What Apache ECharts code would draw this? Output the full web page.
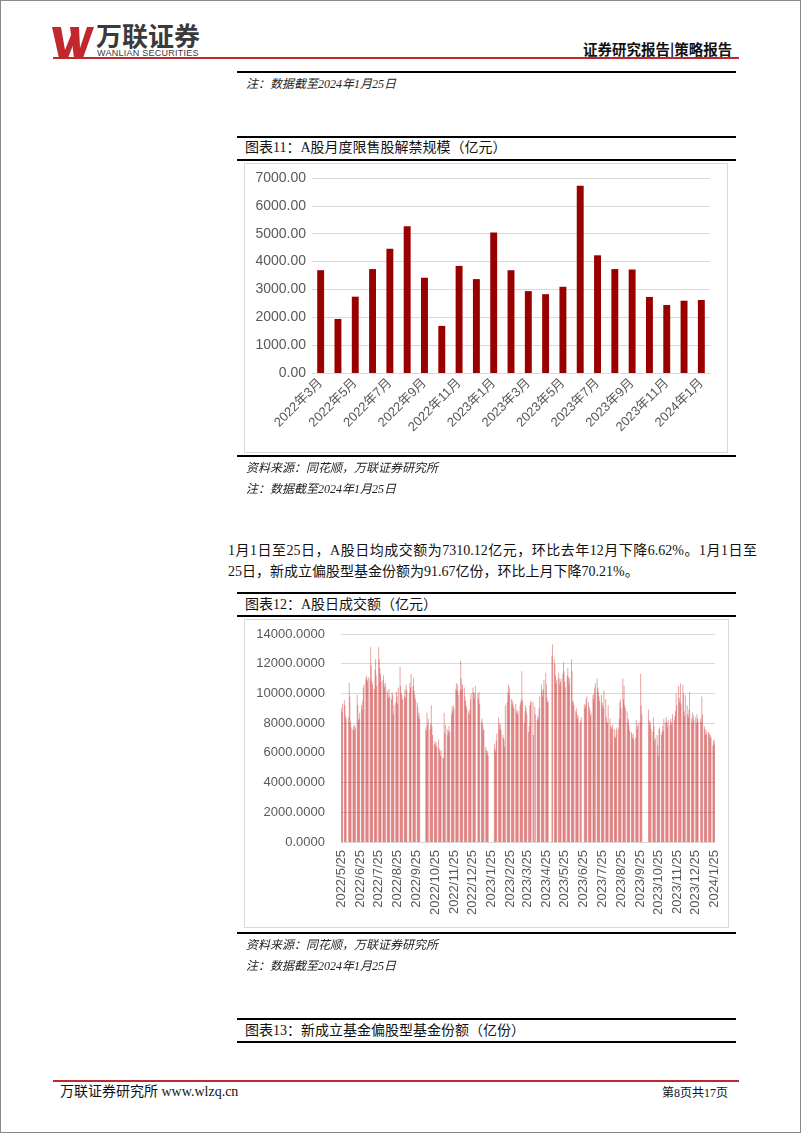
<!DOCTYPE html>
<html><head><meta charset="utf-8">
<script src="https://cdn.jsdelivr.net/npm/echarts@6/dist/echarts.min.js"></script>
<style>
html,body{margin:0;padding:0;background:#fff;}
#page{position:relative;width:802px;height:1133px;overflow:hidden;background:#fff;font-family:"Liberation Serif","Noto Sans CJK SC",serif;color:#111;}
.frame{position:absolute;left:0;top:0;width:801px;height:1133px;box-sizing:border-box;border:1px solid #8a8a8a;}
.t{position:absolute;white-space:nowrap;}
.bl{position:absolute;left:237px;width:499px;height:2px;background:#000;}
.src{font-style:italic;font-size:12px;line-height:12px;color:#222;}
.ttl{font-size:14px;line-height:14px;color:#111;}
.box{position:absolute;border:1px solid #d9d9d9;box-sizing:border-box;}
</style></head>
<body><div id="page">
<div class="frame"></div>
<svg class="t" style="left:51px;top:26px" width="44" height="33" viewBox="0 0 44 33">
  <polygon points="1,1 10,1 14,24 20,9 26,9 17,32 8,32" fill="#c1272d"/>
  <polygon points="19,1 28,1 29,22 36,1 43,1 32,32 23,32" fill="#c1272d"/>
</svg>
<div class="t" style="left:96px;top:22px;font-family:'Noto Sans CJK SC';font-weight:bold;font-size:26px;line-height:26px;color:#3a3a3a;">万联证券</div>
<div class="t" style="left:97px;top:49px;font-family:'Liberation Sans';font-size:9px;line-height:9px;color:#3a3a3a;letter-spacing:0.25px;">WANLIAN SECURITIES</div>
<div class="t" style="left:583px;top:41px;font-family:'Noto Sans CJK SC';font-weight:bold;font-size:14.5px;line-height:15px;color:#111;">证券研究报告|策略报告</div>
<div class="t" style="left:53px;top:57px;width:686px;height:2px;background:#c1272d;"></div>

<div class="bl" style="top:71px"></div>
<div class="t src" style="left:246px;top:78px">注：数据截至2024年1月25日</div>

<div class="bl" style="top:136px"></div>
<div class="t ttl" style="left:245px;top:141px">图表11：A股月度限售股解禁规模（亿元）</div>
<div class="bl" style="top:159px"></div>
<div id="c1" style="position:absolute;left:244px;top:163px;width:484px;height:290px;"></div>
<div class="box" style="left:244px;top:163px;width:484px;height:290px;"></div>
<div class="bl" style="top:455px"></div>
<div class="t src" style="left:246px;top:462px">资料来源：同花顺，万联证券研究所</div>
<div class="t src" style="left:246px;top:483px">注：数据截至2024年1月25日</div>

<div class="t" style="left:228px;top:544px;width:529px;font-size:14px;line-height:14px;text-align:justify;text-align-last:justify;">1月1日至25日，A股日均成交额为7310.12亿元，环比去年12月下降6.62%。1月1日至</div>
<div class="t" style="left:228px;top:565px;font-size:14px;line-height:14px;">25日，新成立偏股型基金份额为91.67亿份，环比上月下降70.21%。</div>

<div class="bl" style="top:592px"></div>
<div class="t ttl" style="left:245px;top:598px">图表12：A股日成交额（亿元）</div>
<div class="bl" style="top:615px"></div>
<div id="c2" style="position:absolute;left:244px;top:619px;width:485px;height:309px;"></div>
<div class="box" style="left:244px;top:619px;width:485px;height:309px;"></div>
<div class="bl" style="top:932px"></div>
<div class="t src" style="left:246px;top:939px">资料来源：同花顺，万联证券研究所</div>
<div class="t src" style="left:246px;top:960px">注：数据截至2024年1月25日</div>

<div class="bl" style="top:1018px"></div>
<div class="t ttl" style="left:245px;top:1024px">图表13：新成立基金偏股型基金份额（亿份）</div>
<div class="bl" style="top:1041px"></div>

<div class="t" style="left:53px;top:1080px;width:686px;height:2px;background:#c1272d;"></div>
<div class="t" style="left:60px;top:1085px;font-size:14px;line-height:14px;color:#111;">万联证券研究所 www.wlzq.cn</div>
<div class="t" style="left:662px;top:1087px;font-size:12px;line-height:12px;color:#111;">第8页共17页</div>
</div>
<script>
// ---- Chart 11: monthly unlock scale ----
const unlockMonths = ['2022年3月','2022年4月','2022年5月','2022年6月','2022年7月','2022年8月','2022年9月','2022年10月','2022年11月','2022年12月','2023年1月','2023年2月','2023年3月','2023年4月','2023年5月','2023年6月','2023年7月','2023年8月','2023年9月','2023年10月','2023年11月','2023年12月','2024年1月'];
const unlockValues = [3690,1940,2740,3730,4460,5270,3420,1690,3845,3370,5040,3690,2940,2830,3095,6725,4225,3730,3715,2730,2440,2595,2620];
const unlockTicks = [0,1000,2000,3000,4000,5000,6000,7000];

// ---- Chart 12: daily turnover, trading days per month in order ----
const d2022_05 = [9000,8750,9300,9550,9200];
const d2022_06 = [8500,8300,8400,10700,9800,8100,7700,7600,7800,7500,7900,7700,9900,9200,8200,8300,8700,9200,8900,9500,10400];
const d2022_07 = [10600,11000,11200,10900,10800,11100,11000,13100,11900,10800,10600,10300,11600,12300,11200,10500,13100,12300,11700,11300,10800];
const d2022_08 = [10900,11200,10600,10400,10700,10200,10000,9700,10300,9800,9600,10100,9900,8600,9200,9400,10100,9800,9300,10400,11800,10500,10000];
const d2022_09 = [9900,9600,9800,10300,9700,10600,10200,10000,10700,10400,11300,10500,11000,10200,9900,9600,9400,9100,8500,8700,8300];
const d2022_10 = [7700,7500,8700,7900,8300,7600,8000,9200,7800,7200,6600,6800,6500,6700,6400,6900];
const d2022_11 = [6300,6100,5800,6200,5700,5600,8700,7300,7900,7600,7200,7500,7800,7400,8600,9100,8800,9200,9000,10300,10700,10200];
const d2022_12 = [10600,9900,10200,12200,11000,10300,10600,10400,9800,9500,9200,9000,8800,8600,8900,9600,10000,10400,10100,9700,10000,10500];
const d2023_01 = [10000,9600,10100,9300,8100,8300,7900,7500,7600,6400,6200,5900,6100,5800,6600,6300];
const d2023_02 = [6100,6800,7300,8400,8000,7600,7900,7500,7200,7000,6900,6400,9200,9400,10100,10600,9900,10400,9600,9300];
const d2023_03 = [9500,9200,9000,9300,8700,8900,8600,8800,9200,9400,9600,11500,9500,8000,8800,9200,9000,8600,7400,7800,9200,9400,9500];
const d2023_04 = [9400,7200,9100,8600,8200,8500,8300,9000,9800,10600,10200,9800,10300,10900,11400,10600,9700,9400,9500];
const d2023_05 = [12500,13300,12300,12000,11200,10700,10900,11400,11000,10600,10800,11000,11300,12100,11500,10800,10400,11200,11700,11100];
const d2023_06 = [10600,11000,12300,11500,9500,9400,9200,8800,9000,8600,8300,8500,8000,8200,8400,9300,9000,9200,9600,9800];
const d2023_07 = [9400,9100,8900,8500,8700,9900,9600,10000,10400,10700,11000,10400,10100,9800,9500,9900,9400,9200,9000,10200,9600];
const d2023_08 = [8400,8100,8000,9200,8300,7800,7600,7700,7900,7600,7100,7000,7500,7700,7600,8300,9400,9600,9000,11000,9600,10500,9200];
const d2023_09 = [9000,8800,8100,8300,7900,7500,7400,7200,7000,7300,6900,7000,8200,7600,7800,8000,8100,11300,9200,8600];
const d2023_10 = [8900,8200,7900,8100,7600,7400,8400,7800,6800,7000,7200,6500,5800,7600,7700,7200,7400];
const d2023_11 = [7800,7500,8300,8100,8400,8000,7700,8200,7900,8300,8100,7900,8600,8200,8500,8800,10000,9200,10500,9700,9400,10700];
const d2023_12 = [9300,10600,10000,8800,8500,9900,9200,8600,8400,8900,10100,8300,8000,8700,8500,8200,8400,8000,8600,8300,8100];
const d2024_01 = [8300,8100,9800,8600,7800,7600,7200,7500,7300,7400,7200,7300,7000,7100,6500,6800,6900,6600];
const turnoverTicks = [0,2000,4000,6000,8000,10000,12000,14000];
// exchange holidays (weekdays with no trading)
const holidays = ['2022-06-03','2022-09-12','2022-10-03','2022-10-04','2022-10-05','2022-10-06','2022-10-07','2023-01-02','2023-01-23','2023-01-24','2023-01-25','2023-01-26','2023-01-27','2023-04-05','2023-05-01','2023-05-02','2023-05-03','2023-06-22','2023-06-23','2023-09-29','2023-10-02','2023-10-03','2023-10-04','2023-10-05','2023-10-06','2024-01-01'];

const monthly = {'2022-05':d2022_05,'2022-06':d2022_06,'2022-07':d2022_07,'2022-08':d2022_08,'2022-09':d2022_09,'2022-10':d2022_10,'2022-11':d2022_11,'2022-12':d2022_12,'2023-01':d2023_01,'2023-02':d2023_02,'2023-03':d2023_03,'2023-04':d2023_04,'2023-05':d2023_05,'2023-06':d2023_06,'2023-07':d2023_07,'2023-08':d2023_08,'2023-09':d2023_09,'2023-10':d2023_10,'2023-11':d2023_11,'2023-12':d2023_12,'2024-01':d2024_01};

const dayCats = [], dayVals = [];
(function(){
  const pad = n => (n<10?'0':'')+n;
  const start = Date.UTC(2022,4,25), end = Date.UTC(2024,0,25);
  const hol = new Set(holidays);
  const used = {};
  for (let t = start; t <= end; t += 86400000) {
    const d = new Date(t);
    const y = d.getUTCFullYear(), m = d.getUTCMonth()+1, dd = d.getUTCDate(), wd = d.getUTCDay();
    const iso = y+'-'+pad(m)+'-'+pad(dd), key = y+'-'+pad(m);
    dayCats.push(y+'/'+m+'/'+dd);
    if (wd===0 || wd===6 || hol.has(iso)) { dayVals.push(null); continue; }
    used[key] = (used[key]||0);
    const arr = monthly[key];
    const v = arr && used[key] < arr.length ? arr[used[key]] : null;
    used[key]++;
    dayVals.push(v);
  }
})();

const axisFont = '"Liberation Sans","Noto Sans CJK SC",sans-serif';
const c1 = echarts.init(document.getElementById('c1'));
c1.setOption({
  animation:false,
  grid:{left:68,right:18,top:15,bottom:80},
  xAxis:{type:'category',data:unlockMonths,
    axisLine:{lineStyle:{color:'#d9d9d9'}},axisTick:{show:false},
    axisLabel:{interval:1,rotate:45,color:'#595959',fontSize:13,fontFamily:axisFont,margin:8}},
  yAxis:{type:'value',min:unlockTicks[0],max:unlockTicks[unlockTicks.length-1],interval:1000,
    axisLine:{show:false},axisTick:{show:false},
    splitLine:{lineStyle:{color:'#d9d9d9'}},
    axisLabel:{color:'#595959',fontSize:14,fontFamily:axisFont,margin:6,formatter:v=>v.toFixed(2)}},
  series:[{type:'bar',data:unlockValues,barWidth:'40%',itemStyle:{color:'#990000'}}]
});

const c2 = echarts.init(document.getElementById('c2'));
c2.setOption({
  animation:false,
  grid:{left:97,right:14,top:15,bottom:86},
  xAxis:{type:'category',data:dayCats,
    axisLine:{show:false},axisTick:{show:false},
    axisLabel:{interval:(i,v)=>/\/25$/.test(v),rotate:90,color:'#595959',fontSize:13,fontFamily:axisFont,margin:8}},
  yAxis:{type:'value',min:turnoverTicks[0],max:turnoverTicks[turnoverTicks.length-1],interval:2000,
    axisLine:{show:false},axisTick:{show:false},
    splitLine:{lineStyle:{color:'#d9d9d9'}},
    axisLabel:{color:'#595959',fontSize:13,fontFamily:axisFont,margin:16,formatter:v=>v.toFixed(4)}},
  series:[{type:'bar',data:dayVals,barWidth:0.7,itemStyle:{color:'rgba(192,0,0,0.36)'}}]
});
</script>
</body></html>
